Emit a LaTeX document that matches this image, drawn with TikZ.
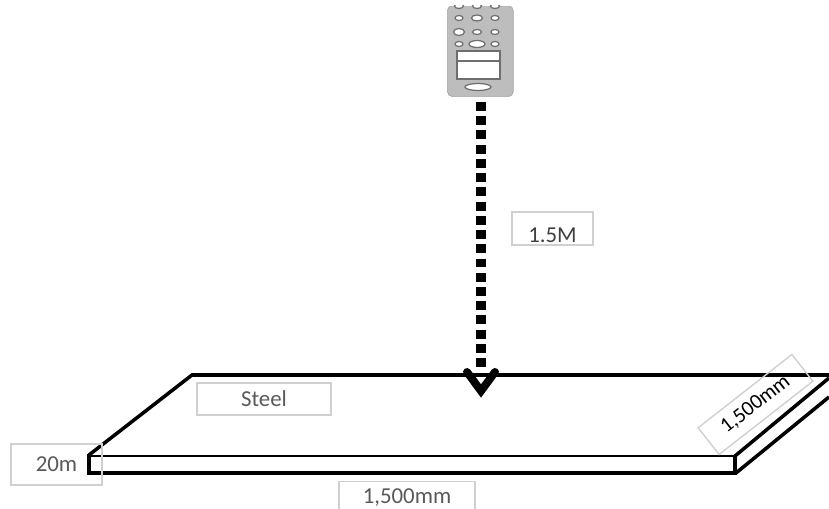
\documentclass[tikz,border=0pt]{standalone}
\usepackage{fontspec}
\setmainfont{Carlito}
\usetikzlibrary{positioning}
\definecolor{labelgray}{HTML}{D0D0D0}
\definecolor{remotegray}{HTML}{BDBDBD}
\definecolor{keygray}{HTML}{6E6E6E}
\begin{document}
\begin{tikzpicture}[x=0.02cm,y=-0.02cm,
 tag/.style={draw=labelgray,line width=0.8pt,inner sep=0pt,font=\fontsize{13}{15}\selectfont,text=black!65},
 plate/.style={line width=2pt},
 key/.style={draw=keygray,fill=white,line width=0.7pt},
 hop/.style={line width=5.7pt,dash pattern=on 5.1pt off 3pt}]
 \useasboundingbox (0,0) rectangle (829,509);
 % remote
 \node[draw=black!35,fill=remotegray,rounded corners=3pt,minimum width=1.32cm,minimum height=1.82cm,inner sep=0pt,anchor=south west] (remote) at (447,97) {};
 \fill[white] (440,0) rectangle (520,6);
 \begin{scope}
  \clip (440,6) rectangle (520,30);
  \foreach \x in {459,477,495} \draw[key] (\x,6) ellipse (4.5 and 2.5);
 \end{scope}
 \foreach \x/\y/\rx/\ry in {459/18/4/2.5,477/18/5.5/3,495/18/4/2.5,
                            459/32/5.5/3.5,477/32/4.5/2.5,495/32/4/2.5,
                            459/44/4/2.5,477/44/8/3.5,495/44/4/2.5}
  \draw[key] (\x,\y) ellipse ({\rx} and {\ry});
 \draw[key] (457,51) rectangle (500,79);
 \draw[key] (457,61) -- (500,61);
 \draw[key] (478,87) ellipse (13 and 3.5);
 % plate
 \coordinate (hit) at (481,368);
 \draw[plate] (89,455) -- (192,375) -- (829,375);
 \draw[line width=1.5pt] (89,456) -- (735,456);
 \draw[line width=2.3pt] (87,473) -- (737,473);
 \draw[line width=2.8pt] (89,454) -- (89,475);
 \draw[line width=2.2pt] (735,455) -- (735,475);
 \draw[plate] (735,456) -- (829,378);
 \draw[plate] (736,473) -- (829,397);
 % labels
 \node[tag,minimum width=2.68cm,minimum height=0.64cm] (steel) at (264,399) {Steel};
 \node[tag,text=black!75,minimum width=1.62cm,minimum height=0.66cm,text height=15.6pt,text depth=0pt] (height) at (552.5,228.5) {1.5M};
 \node[tag,minimum width=1.82cm,minimum height=0.82cm] (thick) at (56.5,464.5) {20m};
 \node[tag,minimum width=2.72cm,minimum height=0.64cm,anchor=north] (width) at (407,481) {1,500mm};
 \node[tag,text=black,font=\fontsize{12}{14}\selectfont,minimum width=2.38cm,minimum height=0.68cm,rotate=38] (depth) at (755.5,404.5) {1,500mm};
 % drop
 \draw[hop] (remote.south -| hit) ++(0,5) -- (hit);
 \draw[line width=4.5pt,line cap=round,miter limit=10] (467,372) -- (481,391) -- (495,372);
\end{tikzpicture}
\end{document}
